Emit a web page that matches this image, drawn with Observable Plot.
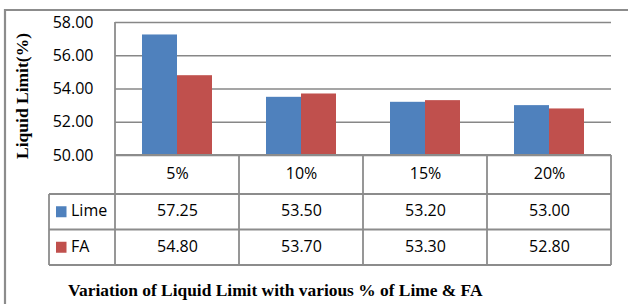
<!DOCTYPE html>
<html><head><meta charset="utf-8">
<script src="https://cdn.jsdelivr.net/npm/d3@7"></script>
<script src="https://cdn.jsdelivr.net/npm/@observablehq/plot@0.6"></script>
<style>html,body{margin:0;padding:0;background:#fff}svg{display:block}</style>
</head><body><div id="chart"></div>
<script>
const categories = ["5%", "10%", "15%", "20%"];
const series = ["Lime", "FA"];
const limeValues = [57.25, 53.50, 53.20, 53.00];
const faValues = [54.80, 53.70, 53.30, 52.80];
const yTicks = [50, 52, 54, 56, 58];
const yLabel = "Liquid Limit(%)";
const caption = "Variation of Liquid Limit with various % of Lime & FA";
const colors = ["#4F81BD", "#C0504D"];

const seriesValues = [limeValues, faValues];
const data = series.flatMap((s, i) => categories.map((c, j) => ({category: c, series: s, value: seriesValues[i][j]})));

const W = 628, H = 304, mL = 115, mR = 17, mT = 22, mB = 149;
const gridColor = "#878787", lineColor = "#8c8c8c";
const sans = "'Open Sans', sans-serif";
const serif = "'Liberation Serif', 'Times New Roman', serif";
const headerH = 39, rowH = 35.5;
const fs = 16;
const textShift = 4;

const plot = Plot.plot({
  width: W, height: H,
  marginLeft: mL, marginRight: mR, marginTop: mT, marginBottom: mB,
  style: {fontFamily: sans, fontSize: fs + "px", color: "#000", background: "#fff", overflow: "visible"},
  fx: {domain: categories, padding: 0, axis: null},
  x: {domain: series, paddingInner: 0, paddingOuter: 0.77, axis: null},
  y: {domain: [50, 58], ticks: yTicks, tickFormat: d => d.toFixed(2)},
  color: {domain: series, range: colors},
  marks: [
    Plot.gridY(yTicks, {stroke: gridColor, strokeOpacity: 1, strokeWidth: 1.6}),
    Plot.barY(data, {fx: "category", x: "series", y1: 50, y2: "value", fill: "series"}),
    Plot.axisY(yTicks, {tickSize: 0, tickPadding: 22, label: null, fontSize: fs, tickFormat: d => d.toFixed(2)}),
    Plot.text(categories, {fx: d => d, text: d => d, frameAnchor: "bottom", dy: headerH / 2 + textShift, fontSize: fs}),
    Plot.text(data.filter(d => d.series === series[0]), {fx: "category", text: d => d.value.toFixed(2), frameAnchor: "bottom", dy: headerH + rowH / 2 + textShift, fontSize: fs}),
    Plot.text(data.filter(d => d.series === series[1]), {fx: "category", text: d => d.value.toFixed(2), frameAnchor: "bottom", dy: headerH + rowH * 1.5 + textShift, fontSize: fs})
  ]
});

(function () {
  const svg = d3.select(plot);
  const fx = plot.scale("fx");
  const y = plot.scale("y");
  const yBottom = y.apply(50), yTop = y.apply(58);
  const xLeft = fx.apply(categories[0]);
  const xRight = fx.apply(categories[categories.length - 1]) + fx.bandwidth;
  const legendLeft = 49;
  const r1 = yBottom + headerH, r2 = r1 + rowH, r3 = r2 + rowH;

  const g = svg.append("g").attr("stroke", lineColor).attr("stroke-width", 1.8).attr("fill", "none");
  g.append("path").attr("d", `M5,${H + 5}V10H${W + 5}`).attr("stroke-width", 2.2);
  g.append("line").attr("x1", xLeft).attr("x2", xLeft).attr("y1", yTop).attr("y2", r3);
  g.append("line").attr("x1", xLeft).attr("x2", xRight).attr("y1", yBottom).attr("y2", yBottom);
  [r1, r2, r3].forEach(yy => g.append("line").attr("x1", legendLeft).attr("x2", xRight).attr("y1", yy).attr("y2", yy));
  categories.forEach(c => {
    const xe = fx.apply(c) + fx.bandwidth;
    g.append("line").attr("x1", xe).attr("x2", xe).attr("y1", yBottom).attr("y2", r3);
  });
  g.append("line").attr("x1", legendLeft).attr("x2", legendLeft).attr("y1", r1).attr("y2", r3);

  series.forEach((s, i) => {
    const cy = r1 + rowH * (i + 0.5);
    svg.append("rect").attr("x", 56).attr("y", cy - 5.5).attr("width", 10.5).attr("height", 11).attr("fill", colors[i]);
    svg.append("text").attr("x", 71).attr("y", cy - 1).attr("dy", "0.35em").attr("text-anchor", "start")
      .attr("font-family", sans).attr("font-size", fs).attr("fill", "#000").text(s);
  });

  svg.append("text").attr("transform", `translate(28,96) rotate(-90)`).attr("text-anchor", "middle")
    .attr("font-family", serif).attr("font-weight", "bold").attr("font-size", 17.5).attr("fill", "#000").text(yLabel);

  svg.append("text").attr("x", 68).attr("y", 296).attr("text-anchor", "start")
    .attr("font-family", serif).attr("font-weight", "bold").attr("font-size", 17.4).attr("fill", "#000").text(caption);
})();

document.getElementById("chart").appendChild(plot);
</script>
</body></html>
